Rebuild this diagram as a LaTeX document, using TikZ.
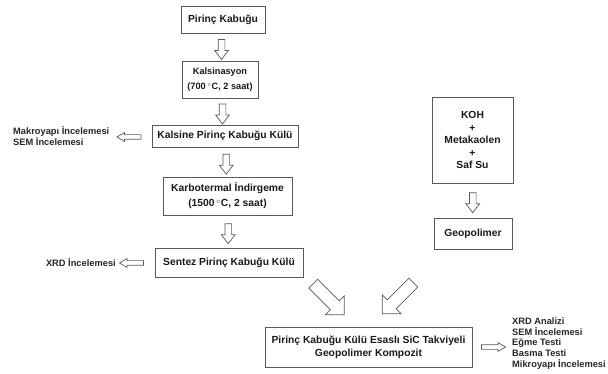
\documentclass[tikz,border=0pt]{standalone}
\usepackage{fontspec}
\setmainfont{Liberation Sans}
\usetikzlibrary{calc, shapes.arrows}

\begin{document}
\begin{tikzpicture}[
          bx/.style={draw=black!65, line width=0.8pt, align=center, inner sep=0pt, text=black!90, font=\bfseries\fontsize{10.3}{15}\selectfont},
          ar/.style={single arrow, draw=black!65, fill=white, line width=0.7pt, inner sep=3pt, single arrow head extend=3.5pt, single arrow tip angle=75, minimum height=20pt},
          sa/.style={ar, inner sep=2pt, single arrow head extend=2pt, single arrow tip angle=60, minimum height=24pt},
          ba/.style={ar, inner sep=6pt, single arrow head extend=7pt, single arrow tip angle=90, minimum height=44pt},
          tx/.style={align=left, inner sep=0pt, text=black!85, font=\bfseries\fontsize{9.3}{10.7}\selectfont},
          x=1pt,
          y=-1pt,
        ]
      \useasboundingbox (0, 0) rectangle (608, 374);
      \node[bx, minimum width=84pt, minimum height=27pt] (pk) at (223, 19.5) {Pirinç Kabuğu};
      \node[bx, minimum width=76pt, minimum height=37pt, font=\bfseries\fontsize{9.2}{15}\selectfont] (kal) at (220, 80) {Kalsinasyon\\(700\,$^{\circ}$C, 2 saat)};
      \node[bx, minimum width=146pt, minimum height=22pt] (kpk) at (225, 136) {Kalsine Pirinç Kabuğu Külü};
      \node[bx, minimum width=129pt, minimum height=38pt] (kar) at (227.5, 196) {Karbotermal İndirgeme\\(1500\,$^{\circ}$C, 2 saat)};
      \node[bx, minimum width=148pt, minimum height=29pt] (spk) at (229, 262.5) {Sentez Pirinç Kabuğu Külü};
      \node[bx, minimum width=81pt, minimum height=86pt, font=\bfseries\fontsize{10.3}{12.5}\selectfont] (koh) at (472.5, 140) {KOH\\+\\Metakaolen\\+\\Saf Su};
      \node[bx, minimum width=78pt, minimum height=31pt] (geo) at (473, 233.5) {Geopolimer};
      \node[bx, minimum width=207pt, minimum height=40pt, font=\bfseries\fontsize{10.3}{13}\selectfont] (pkk) at (368.5, 347) {Pirinç Kabuğu Külü Esaslı SiC  Takviyeli\\Geopolimer Kompozit};
      \node[ar, rotate=-90] (a1) at ($(pk.south)!0.5!(kal.north)$) {};
      \node[ar, rotate=-90] (a2) at ($(kal.south)!0.5!(kpk.north)$) {};
      \node[ar, rotate=-90] (a3) at ($(kpk.south)!0.5!(kar.north)$) {};
      \node[ar, rotate=-90] (a4) at ($(kar.south)!0.5!(spk.north)$) {};
      \node[ar, rotate=-90] (a5) at ($(koh.south)!0.5!(geo.north)$) {};
      \node[sa, rotate=180] (l1) at (131, 137) {};
      \node[sa, rotate=180] (l2) at (133.5, 263) {};
      \node[sa] (r1) at (491.5, 347) {};
      \node[ba, rotate=-45] (d1) at (326.5, 297) {};
      \node[ba, rotate=-135] (d2) at (400, 296) {};
      \node[tx, anchor=west] (mak) at (13, 136) {Makroyapı İncelemesi\\SEM İncelemesi};
      \node[tx, anchor=east] (xrd) at (116, 263) {XRD İncelemesi};
      \node[tx, anchor=west] (tst) at (512, 343.5) {XRD Analizi\\SEM İncelemesi\\Eğme Testi\\Basma Testi\\Mikroyapı İncelemesi};
    \end{tikzpicture}
\end{document}
